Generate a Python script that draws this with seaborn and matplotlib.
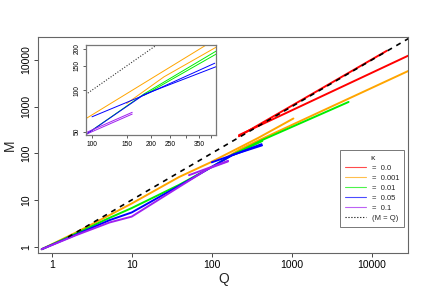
import numpy as np
import pandas as pd
import seaborn as sns
import matplotlib.pyplot as plt
from matplotlib.lines import Line2D

# kappa levels and colours
kappas = ["0.0", "0.001", "0.01", "0.05", "0.1"]
colors = ["#FF0000", "#FFA500", "#00EE00", "#0000FF", "#A020F0"]

# trajectories (Q, M), one list per segment
red_a_q = [219, 15500]
red_a_m = [232, 15800]
red_b_q = [219, 28700]
red_b_m = [245, 12400]

orange_a_q = [0.75, 2, 5.3, 10, 39, 93, 382, 1050]
orange_a_m = [0.88, 2.0, 4.75, 8.4, 31, 62, 214, 557]
orange_b_q = [150, 232, 426, 28700]
orange_b_m = [80, 125, 205, 5820]

green_a_q = [0.75, 2, 5.3, 10, 39, 94, 184, 426, 5140]
green_a_m = [0.88, 1.9, 4.15, 6.7, 21, 48, 94, 192, 1260]
green_b_q = [184, 430]
green_b_m = [92, 184]

blue_a_q = [0.75, 2, 5.3, 10, 39, 94, 184]
blue_a_m = [0.88, 1.8, 3.7, 5.4, 20, 48, 93]
blue_b_q = [100, 184, 420]
blue_b_m = [64, 92, 157]
blue_c_q = [184, 426]
blue_c_m = [93, 148]

purple_a_q = [0.75, 2, 5.3, 10, 39, 91]
purple_a_m = [0.88, 1.75, 3.3, 4.4, 19, 47]
purple_b_q = [52, 160]
purple_b_m = [34, 69]
purple_c_q = [91, 160]
purple_c_m = [47, 67]

segments = [
    ("0.0", red_a_q, red_a_m), ("0.0", red_b_q, red_b_m),
    ("0.001", orange_a_q, orange_a_m), ("0.001", orange_b_q, orange_b_m),
    ("0.01", green_a_q, green_a_m), ("0.01", green_b_q, green_b_m),
    ("0.05", blue_a_q, blue_a_m), ("0.05", blue_b_q, blue_b_m), ("0.05", blue_c_q, blue_c_m),
    ("0.1", purple_a_q, purple_a_m), ("0.1", purple_b_q, purple_b_m), ("0.1", purple_c_q, purple_c_m),
]

rows = []
for i, (k, qs, ms) in enumerate(segments):
    for q, m in zip(qs, ms):
        rows.append({"kappa": k, "seg": i, "Q": q, "M": m})
df = pd.DataFrame(rows)

ident_q = [1.6, 40000]

sns.set_style("white")
plt.rcParams["font.family"] = ["Liberation Sans", "DejaVu Sans"]

fig = plt.figure(figsize=(4.32, 3.0), dpi=100)
ax = fig.add_axes([0.0887, 0.1557, 0.8565, 0.721])
ax.set_xscale("log")
ax.set_yscale("log")

pal = dict(zip(kappas, colors))
sns.lineplot(data=df, x="Q", y="M", hue="kappa", units="seg", estimator=None,
             sort=False, palette=pal, hue_order=kappas, linewidth=1.4,
             legend=False, ax=ax)
ax.plot(ident_q, ident_q, color="black", linestyle=(0, (3, 3)), linewidth=1.2)

ax.set_xlim(0.68, 28700)
ax.set_ylim(0.72, 31100)
ax.set_xticks([1, 10, 100, 1000, 10000])
ax.set_xticklabels(["1", "10", "100", "1000", "10000"])
ax.set_yticks([1, 10, 100, 1000, 10000])
ax.set_yticklabels(["1", "10", "100", "1000", "10000"], rotation=90, va="center")
ax.minorticks_off()
ax.tick_params(axis="both", direction="out", length=3, width=0.7, colors="#444444",
               labelsize=7.5, labelcolor="black", bottom=True, left=True, pad=2)
ax.set_xlabel("Q", fontsize=10, labelpad=1)
ax.set_ylabel("M", fontsize=10, labelpad=3)
for s in ax.spines.values():
    s.set_color("#666666")
    s.set_linewidth(0.8)

handles = [Line2D([], [], color=c, linewidth=0.8, alpha=0.7) for c in colors]
handles.append(Line2D([], [], color="black", linestyle=":", linewidth=0.8))
labels = ["=  " + k for k in kappas] + ["(M = Q)"]
leg = ax.legend(handles, labels, title="\u03ba", loc="lower right",
                bbox_to_anchor=(0.989, 0.123), fontsize=5.5, title_fontsize=6,
                frameon=True, fancybox=False, edgecolor="#555555",
                handlelength=2.8, handletextpad=0.8, labelspacing=0.35,
                borderpad=0.6, borderaxespad=0)
leg.get_frame().set_linewidth(0.7)

# inset zoom
axin = fig.add_axes([0.199, 0.55, 0.301, 0.301])
axin.set_xscale("log")
axin.set_yscale("log")
sns.lineplot(data=df, x="Q", y="M", hue="kappa", units="seg", estimator=None,
             sort=False, palette=pal, hue_order=kappas, linewidth=0.7,
             legend=False, ax=axin)
axin.plot(ident_q, ident_q, color="#333333", linestyle=(0, (1, 1.5)), linewidth=0.8)
axin.set_xlim(93.2, 426)
axin.set_ylim(47.2, 214)
axin.set_xticks([100, 150, 200, 250, 300, 350, 400])
axin.set_xticklabels(["100", "150", "200", "250", "", "350", ""])
axin.set_yticks([50, 100, 150, 200])
axin.set_yticklabels(["50", "100", "150", "200"], rotation=90, va="center")
axin.minorticks_off()
axin.tick_params(axis="both", direction="out", length=2.5, width=0.6, colors="#444444",
                 labelsize=4.8, labelcolor="black", bottom=True, left=True, pad=1.5)
axin.set_xlabel("")
axin.set_ylabel("")
for s in axin.spines.values():
    s.set_color("#777777")
    s.set_linewidth(0.9)

fig.savefig("out.png", dpi=100)
